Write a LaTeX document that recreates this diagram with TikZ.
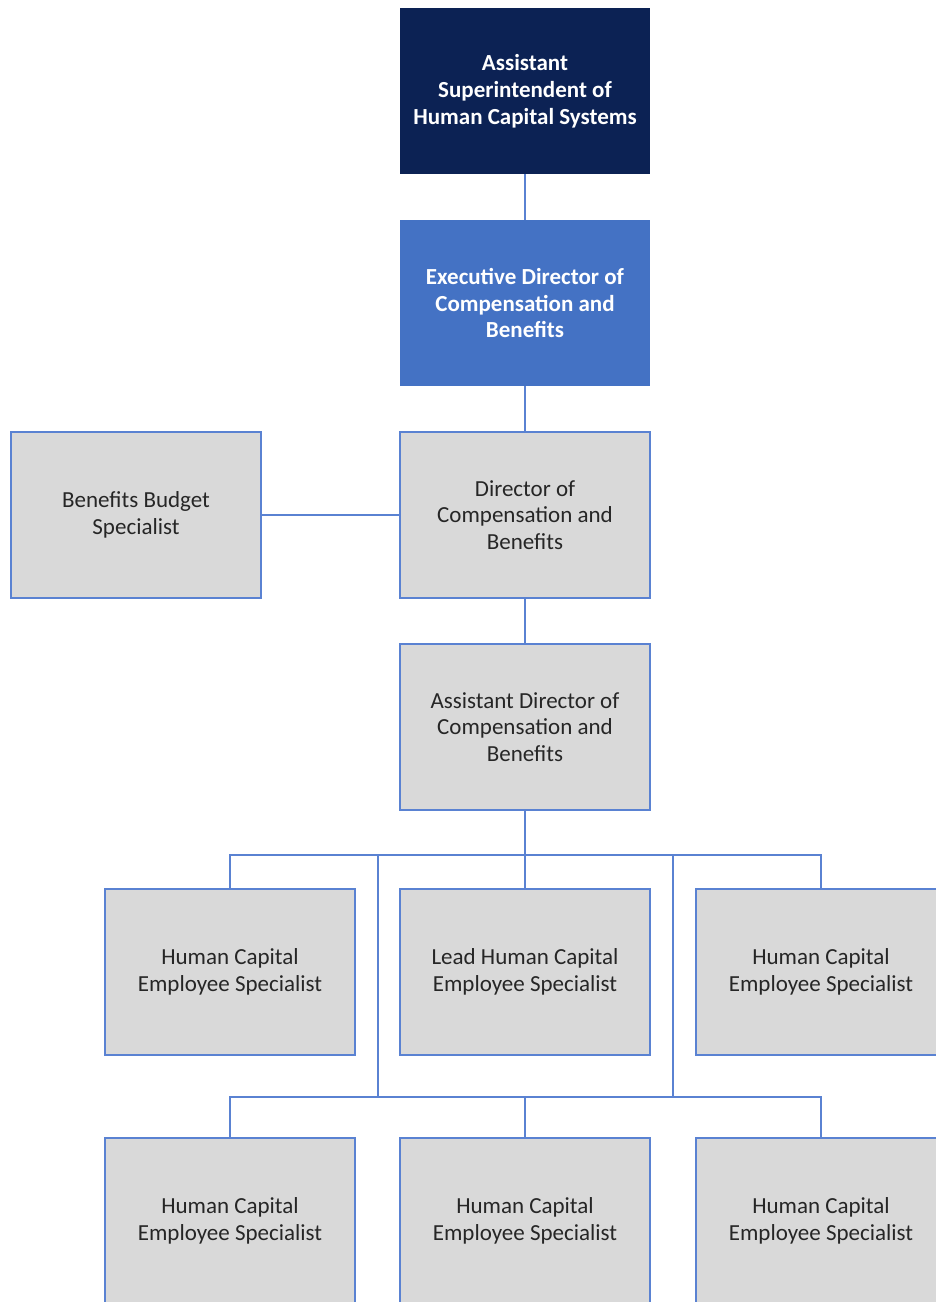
\documentclass[tikz,border=0pt]{standalone}
\usepackage{fontspec}
\setmainfont{Carlito}
\usetikzlibrary{positioning,calc}
\definecolor{navyhead}{HTML}{0C2254}
\definecolor{execblue}{HTML}{4472C4}
\definecolor{linkblue}{HTML}{5A82D2}
\definecolor{boxgray}{HTML}{D9D9D9}
\definecolor{boxtext}{HTML}{262626}
\begin{document}
\begin{tikzpicture}[x=0.5pt,y=-0.5pt]
    \tikzstyle{link} = [line width=0.8pt, draw=linkblue]
    \tikzstyle{box} = [rectangle, minimum width=125pt, minimum height=83pt, inner sep=0pt, outer sep=0pt, align=center, font=\fontsize{11.5}{13.3}\selectfont]
    \tikzstyle{staff} = [box, fill=boxgray, draw=linkblue, line width=0.8pt, text=boxtext]
    \tikzstyle{head} = [box, fill=navyhead, text=white, font=\fontsize{11.5}{13.6}\selectfont\bfseries]
    \tikzstyle{exec} = [box, fill=execblue, text=white, font=\fontsize{11.5}{13.4}\selectfont\bfseries]
    \clip (0,0) rectangle (936,1302);
    \node[head](asup) at (525,91){Assistant\\Superintendent of\\Human Capital Systems};
    \node[exec, below = 23pt of asup](edir){Executive Director of\\Compensation and\\Benefits};
    \node[staff, below = 23pt of edir](dir){Director of\\Compensation and\\Benefits};
    \node[staff, left = 69.5pt of dir](bbs){Benefits Budget\\Specialist};
    \node[staff, below = 23pt of dir](adir){Assistant Director of\\Compensation and\\Benefits};
    \node[staff, below = 39.5pt of adir](lead){Lead Human Capital\\Employee Specialist};
    \node[staff, left = 22.5pt of lead](hcA){Human Capital\\Employee Specialist};
    \node[staff, right = 23pt of lead](hcB){Human Capital\\Employee Specialist};
    \node[staff, below = 41.5pt of lead](hcD){Human Capital\\Employee Specialist};
    \node[staff, left = 22.5pt of hcD](hcC){Human Capital\\Employee Specialist};
    \node[staff, right = 23pt of hcD](hcE){Human Capital\\Employee Specialist};
    % bus lines
    \path (adir.south) ++(0,45) coordinate (bus1);
    \path (lead.south) ++(0,42) coordinate (bus2);
    \coordinate (gapL) at ($(hcA.east)+(23,0)$);
    \coordinate (gapR) at ($(lead.east)+(23,0)$);
    \draw[link] (asup)--(edir);
    \draw[link] (edir)--(dir);
    \draw[link] (bbs)--(dir);
    \draw[link] (dir)--(adir);
    \draw[link] (adir.south)--(bus1);
    \draw[link] (hcA.north) |- (bus1) -| (hcB.north);
    \draw[link] (bus1)--(lead.north);
    \draw[link] (gapL |- bus1)--(gapL |- bus2);
    \draw[link] (gapR |- bus1)--(gapR |- bus2);
    \draw[link] (hcC.north) |- (bus2) -| (hcE.north);
    \draw[link] (bus2)--(hcD.north);
\end{tikzpicture}
\end{document}
